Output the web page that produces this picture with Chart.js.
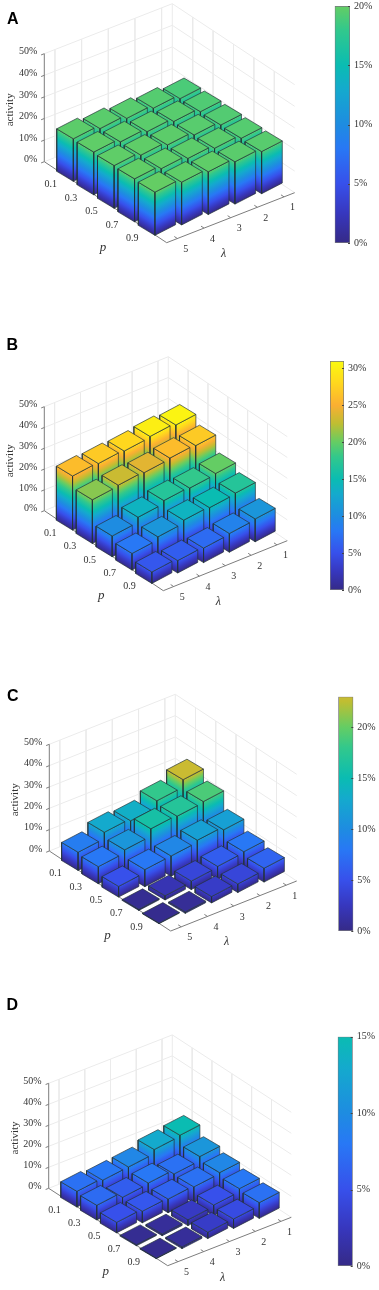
<!DOCTYPE html>
<html>
<head>
<meta charset="utf-8">
<title>activity bars</title>
<script src="https://cdn.jsdelivr.net/npm/chart.js@4/dist/chart.umd.min.js"></script>
<style>
  html, body { margin: 0; padding: 0; background: #fff; }
  #page { position: relative; width: 379px; height: 1290px; overflow: hidden; }
  canvas { position: absolute; }
  .letter { position: absolute; font: bold 16px "Liberation Sans", sans-serif; color: #000; line-height: 16px; }
</style>
</head>
<body>
<div id="page"></div>
<script>
// categories
const pLabels = ['0.1', '0.3', '0.5', '0.7', '0.9'];
const lambdaLabels = ['1', '2', '3', '4', '5'];
const zTicks = [0, 10, 20, 30, 40, 50];

// activity in %, one row per p, columns are lambda 1..5
const activityA = [
    [19.0, 19.4, 19.5, 19.6, 19.7],
    [19.2, 19.5, 19.6, 19.7, 19.8],
    [19.3, 19.5, 19.7, 19.8, 19.8],
    [19.4, 19.6, 19.7, 19.8, 19.9],
    [19.5, 19.6, 19.8, 19.8, 20.0]
];
const activityB = [
    [30.5, 30.0, 28.0, 27.0, 26.0],
    [27.0, 26.0, 24.0, 23.0, 21.0],
    [20.0, 18.0, 17.0, 14.0, 10.0],
    [17.0, 15.0, 14.0, 11.0, 8.0],
    [11.0, 9.0, 7.0, 6.0, 5.5]
];
const activityC = [
    [23.0, 18.0, 13.5, 13.0, 8.5],
    [19.0, 17.0, 16.0, 11.0, 8.0],
    [12.0, 12.0, 9.5, 8.0, 5.0],
    [8.0, 6.0, 4.0, 2.0, 0.5],
    [6.5, 4.0, 3.0, 0.7, 0.3]
];
const activityD = [
    [15.0, 13.0, 9.5, 8.0, 7.5],
    [11.0, 7.5, 8.0, 6.0, 7.0],
    [9.5, 7.5, 6.5, 5.5, 5.0],
    [8.0, 5.0, 2.8, 0.8, 0.5],
    [7.5, 4.5, 3.0, 0.8, 0.3]
];

// colour bar tops
const colorbarMax = [20, 31, 23, 15];
const colorbarTicks = [0, 5, 10, 15, 20, 25, 30];

// colormap: activity %, r, g, b
const colormap = [
    [0, 53, 42, 135], [2.5, 55, 55, 190], [5, 55, 80, 235], [8, 40, 120, 245],
    [10, 30, 140, 225], [13, 20, 170, 205], [15, 10, 188, 178], [18, 50, 200, 140],
    [20, 100, 205, 100], [22.5, 190, 190, 50], [25, 250, 175, 50], [28, 255, 215, 30],
    [31, 250, 250, 15]
];

// where each panel sits on the page
const panels = [
    { letter: 'A', values: activityA, top: 0, lx: 7, ly: 10.5,
      left: [44.3, 161.7], front: [166.7, 242.7], right: [294.7, 192.7], zPx: 108,
      cb: { x: 334.7, w: 15.3, y: 6, h: 237 } },
    { letter: 'B', values: activityB, top: 320, lx: 6.5, ly: 16.5,
      left: [44.3, 190.7], front: [163.3, 270.7], right: [287.3, 220.7], zPx: 104,
      cb: { x: 330, w: 14, y: 41, h: 229 } },
    { letter: 'C', values: activityC, top: 650, lx: 7, ly: 37.5,
      left: [49.3, 201], front: [170.7, 281], right: [296.7, 231], zPx: 106.7,
      cb: { x: 338.3, w: 15, y: 46.7, h: 234.3 } },
    { letter: 'D', values: activityD, top: 970, lx: 6.5, ly: 26.5,
      left: [48.7, 218.3], front: [167.7, 295.7], right: [291.3, 247.3], zPx: 105,
      cb: { x: 337.7, w: 15, y: 66.7, h: 229.3 } }
];

const P_MIN = 0, P_MAX = 6, L_MIN = 0.6, L_MAX = 5.4;
// half footprint of a bar against one p / lambda step, x and y apart: the source's
// bar edges are a bit steeper than the spacing of the bars
const FOOT = { px: 0.408, py: 0.37, lx: 0.3875, ly: 0.51 };
const CH = 320, CW = 325;
const serif = '"Liberation Serif", serif';
const textColor = '#333';

function colorAt(v) {
    for (let i = 1; i < colormap.length; i++) {
        if (v <= colormap[i][0]) {
            const a = colormap[i - 1], b = colormap[i];
            const t = (v - a[0]) / (b[0] - a[0]);
            return 'rgb(' + [1, 2, 3].map(k => Math.round(a[k] + (b[k] - a[k]) * t)).join(',') + ')';
        }
    }
    const last = colormap[colormap.length - 1];
    return `rgb(${last[1]},${last[2]},${last[3]})`;
}

function drawPanel(panel, page) {
    const canvas = document.createElement('canvas');
    canvas.width = CW;
    canvas.height = CH;
    canvas.style.left = '0px';
    canvas.style.top = panel.top + 'px';
    page.appendChild(canvas);

    const [lx, ly] = panel.left, [fx, fy] = panel.front, [rx, ry] = panel.right;
    const k = panel.zPx / 50;

    // p, lambda, activity -> plane of the chart (x in page px, y in %)
    const project = (p, l, z) => {
        const a = (p - P_MIN) / (P_MAX - P_MIN), b = (L_MAX - l) / (L_MAX - L_MIN);
        return {
            x: lx + a * (fx - lx) + b * (rx - fx),
            y: z - (a * (fy - ly) + b * (ry - fy)) / k
        };
    };
    // one step along p / lambda on the plane
    const stepP = { x: (fx - lx) / (P_MAX - P_MIN), y: -(fy - ly) / k / (P_MAX - P_MIN) };
    const stepL = { x: (rx - fx) / (L_MAX - L_MIN), y: -(ry - fy) / k / (L_MAX - L_MIN) };
    // corner of a bar's footprint, sp = -1/+1 along p, sl = -1/+1 along lambda (towards the right corner)
    const corner = (p, l, sp, sl, z) => {
        const c = project(p, l, z);
        return {
            x: c.x + sp * FOOT.px * stepP.x + sl * FOOT.lx * stepL.x,
            y: c.y + sp * FOOT.py * stepP.y + sl * FOOT.ly * stepL.y
        };
    };

    const line = (pts, color, width) => ({
        data: pts, showLine: true, fill: false, borderColor: color, borderWidth: width,
        pointRadius: 0, clip: false
    });
    const grid = [], axes = [], bars = [];
    const gridColor = '#ebebeb', axisColor = '#7d7d7d';

    zTicks.forEach(z => {
        grid.push(line([project(P_MIN, L_MAX, z), project(P_MIN, L_MIN, z), project(P_MAX, L_MIN, z)], gridColor, 1));
    });
    lambdaLabels.forEach(s => {
        grid.push(line([project(P_MIN, +s, 50), project(P_MIN, +s, 0)], gridColor, 1));
    });
    pLabels.forEach((s, i) => {
        grid.push(line([project(i + 1, L_MIN, 50), project(i + 1, L_MIN, 0)], gridColor, 1));
    });
    grid.push(line([project(P_MIN, L_MIN, 0), project(P_MIN, L_MIN, 50)], gridColor, 1));

    axes.push(line([project(P_MIN, L_MAX, 0), project(P_MIN, L_MAX, 50)], axisColor, 1));
    axes.push(line([project(P_MIN, L_MAX, 0), project(P_MAX, L_MAX, 0), project(P_MAX, L_MIN, 0)], axisColor, 1));
    zTicks.forEach(z => axes.push(line([project(P_MIN, L_MAX, z), project(P_MIN, L_MAX + 0.12, z)], axisColor, 1)));
    pLabels.forEach((s, i) => axes.push(line([project(i + 1, L_MAX, 0), project(i + 1, L_MAX - 0.12, 0)], axisColor, 1)));
    lambdaLabels.forEach(s => axes.push(line([project(P_MAX, +s, 0), project(P_MAX - 0.15, +s, 0)], axisColor, 1)));

    const edge = 'rgba(35,50,55,0.85)';
    const sideFace = (a, b, v) => ({
        data: [a, b, { x: b.x, y: b.y + v }, { x: a.x, y: a.y + v }, a],
        showLine: true, fill: 'shape', borderColor: edge, borderWidth: 0.8, pointRadius: 0, clip: false,
        // colour follows height, so the bands run parallel to the bottom edge of the face
        backgroundColor: ctx => {
            const { x: xs, y: ys } = ctx.chart.scales;
            if (!ctx.chart.chartArea || !xs || !ys) return colorAt(v);
            const ax = xs.getPixelForValue(a.x), ay = ys.getPixelForValue(a.y);
            const bx = xs.getPixelForValue(b.x), by = ys.getPixelForValue(b.y);
            const ty = ys.getPixelForValue(a.y + v);
            if (!Number.isFinite(ax + ay + bx + by + ty)) return colorAt(v);
            const len = Math.hypot(bx - ax, by - ay);
            const nx = -(by - ay) / len, ny = (bx - ax) / len;
            const d = (ty - ay) * ny;
            const g = ctx.chart.ctx.createLinearGradient(ax, ay, ax + nx * d, ay + ny * d);
            colormap.forEach(c => { if (c[0] < v) g.addColorStop(c[0] / v, colorAt(c[0])); });
            g.addColorStop(1, colorAt(v));
            return g;
        }
    });

    panel.values.forEach((row, i) => {
        row.forEach((v, j) => {
            const p = i + 1, l = j + 1;
            const left = corner(p, l, -1, -1, 0), front = corner(p, l, 1, -1, 0), right = corner(p, l, 1, 1, 0);
            bars.push(sideFace(left, front, v));
            bars.push(sideFace(front, right, v));
            const top = [[-1, -1], [1, -1], [1, 1], [-1, 1], [-1, -1]].map(q => corner(p, l, q[0], q[1], v));
            bars.push({
                data: top, showLine: true, fill: 'shape', backgroundColor: colorAt(v),
                borderColor: edge, borderWidth: 0.8, pointRadius: 0, clip: false
            });
        });
    });

    const bottomOfPlane = -(CH - ly) / k, topOfPlane = ly / k;

    new Chart(canvas, {
        type: 'scatter',
        data: { datasets: grid.concat(axes, bars).reverse() }, // first dataset ends up on top
        options: {
            responsive: false, animation: false, events: [],
            layout: { padding: 0 },
            plugins: { legend: { display: false }, tooltip: { enabled: false } },
            scales: {
                x: { type: 'linear', display: false, min: lx, max: CW },
                y: {
                    type: 'linear', min: bottomOfPlane, max: topOfPlane,
                    grid: { display: false, drawTicks: false }, border: { display: false },
                    afterBuildTicks: s => { s.ticks = zTicks.map(v => ({ value: v })); },
                    afterFit: s => { s.width = lx; s.paddingTop = 0; s.paddingBottom = 0; },
                    ticks: {
                        autoSkip: false, padding: 7, labelOffset: -2,
                        color: textColor, font: { family: serif, size: 10 },
                        callback: v => v + '%'
                    }
                }
            }
        },
        plugins: [{
            id: 'axisText',
            afterDraw(chart) {
                const c = chart.ctx, xs = chart.scales.x, ys = chart.scales.y;
                const put = (pt, dx, dy, s, font) => {
                    c.font = font;
                    c.fillText(s, xs.getPixelForValue(pt.x) + dx, ys.getPixelForValue(pt.y) + dy);
                };
                c.save();
                c.fillStyle = textColor;
                c.textAlign = 'center';
                c.textBaseline = 'middle';
                const tickFont = '10px ' + serif;
                pLabels.forEach((s, i) => put(project(i + 1, L_MAX, 0), -14, 9.5, s, tickFont));
                lambdaLabels.forEach(s => put(project(P_MAX, +s, 0), 8.5, 11, s, tickFont));
                put(project(3, L_MAX, 0), -2.5, 45, 'p', 'italic 13px ' + serif);
                put(project(P_MAX, 3, 0), -7, 36, 'λ', 'italic 12px ' + serif);
                const mid = project(P_MIN, L_MAX, 24);
                c.translate(xs.getPixelForValue(mid.x) - 34, ys.getPixelForValue(mid.y));
                c.rotate(-Math.PI / 2);
                c.font = '11px ' + serif;
                c.fillText('activity', 0, 0);
                c.restore();
            }
        }]
    });
}

function drawColorbar(panel, max, page) {
    const cb = panel.cb;
    const canvas = document.createElement('canvas');
    const left = 325, width = 54;
    canvas.width = width;
    canvas.height = CH;
    canvas.style.left = left + 'px';
    canvas.style.top = panel.top + 'px';
    page.appendChild(canvas);

    new Chart(canvas, {
        type: 'bar',
        data: {
            labels: ['activity'],
            datasets: [{
                data: [[0, max]], barPercentage: 1, categoryPercentage: 1,
                borderColor: '#77777f', borderWidth: 1, borderSkipped: false,
                backgroundColor: ctx => {
                    const ys = ctx.chart.scales.y;
                    if (!ctx.chart.chartArea || !ys) return colorAt(max);
                    const y0 = ys.getPixelForValue(0), y1 = ys.getPixelForValue(max);
                    if (!Number.isFinite(y0 + y1)) return colorAt(max);
                    const g = ctx.chart.ctx.createLinearGradient(0, y0, 0, y1);
                    colormap.forEach(c => { if (c[0] < max) g.addColorStop(c[0] / max, colorAt(c[0])); });
                    g.addColorStop(1, colorAt(max));
                    return g;
                }
            }]
        },
        options: {
            responsive: false, animation: false, events: [],
            layout: { padding: { left: cb.x - left, top: cb.y, bottom: CH - cb.y - cb.h, right: 0 } },
            plugins: { legend: { display: false }, tooltip: { enabled: false } },
            scales: {
                x: { display: false },
                y: {
                    position: 'right', min: 0, max: max,
                    grid: { display: false, drawTicks: false }, border: { display: false },
                    afterBuildTicks: s => { s.ticks = colorbarTicks.filter(v => v <= max).map(v => ({ value: v })); },
                    afterFit: s => { s.width = width - (cb.x - left) - cb.w; s.paddingTop = 0; s.paddingBottom = 0; },
                    ticks: {
                        autoSkip: false, padding: 4,
                        color: textColor, font: { family: serif, size: 10 },
                        callback: v => v + '%'
                    }
                }
            }
        },
        plugins: [{
            id: 'innerTicks',
            afterDatasetsDraw(chart) {
                const c = chart.ctx, ys = chart.scales.y, r = chart.chartArea.right;
                c.save();
                c.strokeStyle = '#444';
                c.beginPath();
                ys.ticks.forEach(t => {
                    const y = Math.round(ys.getPixelForValue(t.value)) + 0.5;
                    c.moveTo(r - 2, y);
                    c.lineTo(r, y);
                });
                c.stroke();
                c.restore();
            }
        }]
    });
}

const page = document.getElementById('page');
panels.forEach((panel, i) => {
    drawPanel(panel, page);
    drawColorbar(panel, colorbarMax[i], page);
    const d = document.createElement('div');
    d.className = 'letter';
    d.textContent = panel.letter;
    d.style.left = panel.lx + 'px';
    d.style.top = panel.top + panel.ly + 'px';
    page.appendChild(d);
});
</script>
</body>
</html>
